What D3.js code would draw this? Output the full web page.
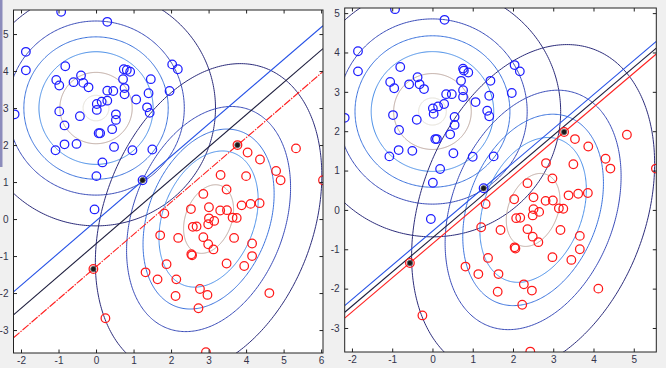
<!DOCTYPE html>
<html><head><meta charset="utf-8">
<script src="https://cdn.jsdelivr.net/npm/d3@7"></script>
<style>body{margin:0;background:#f0f0f0;} svg{display:block}</style>
</head><body><svg id="c" width="666" height="368"></svg>
<script>
// ---------- data ----------
const xTicksLeft = [-2,-1,0,1,2,3,4,5,6];
const yTicksLeft = [-3,-2,-1,0,1,2,3,4,5];
const xTicksRight = [-2,-1,0,1,2,3,4,5];
const yTicksRight = [-3,-2,-1,0,1,2,3,4,5];

const blueLeft = [[-0.93,5.60],[0.30,5.33],[-1.87,4.52],[-1.87,4.02],[-0.82,4.13],[-2.17,2.83],[-1.06,3.76],[-0.98,3.61],[-0.60,3.70],[-0.40,3.88],[-0.34,3.68],[-0.20,3.56],[-0.98,2.91],[-0.43,2.78],[-0.84,2.53],[0.02,3.11],[0.02,2.95],[0.15,3.17],[0.30,3.20],[0.30,3.47],[0.46,3.46],[0.53,2.83],[0.53,2.68],[0.43,2.43],[0.07,2.32],[0.11,2.32],[0.74,4.05],[0.82,4.03],[0.91,3.98],[0.72,3.78],[0.76,3.54],[0.76,3.37],[1.07,3.23],[1.46,3.78],[1.40,3.40],[1.36,3.02],[1.43,2.87],[1.96,3.46],[2.03,4.18],[2.18,4.05],[-1.08,1.86],[-0.84,2.02],[-0.52,2.03],[0.48,1.95],[0.97,1.86],[1.50,1.88],[0.17,1.53],[0.01,1.16],[1.24,1.05],[-0.04,0.26]];
const redLeft = [[3.77,2.00],[4.04,1.80],[4.37,1.61],[5.33,1.91],[4.80,1.30],[4.92,1.05],[6.05,1.05],[3.32,1.19],[4.00,1.16],[3.48,0.80],[2.86,0.68],[1.82,0.15],[2.53,0.27],[3.01,0.32],[3.31,0.23],[3.49,0.24],[3.88,0.37],[4.12,0.41],[4.36,0.43],[3.64,0.04],[3.75,0.03],[3.01,0.02],[3.15,-0.05],[2.99,-0.14],[2.58,-0.21],[2.68,-0.20],[1.71,-0.44],[2.19,-0.51],[2.86,-0.49],[2.99,-0.68],[3.13,-0.82],[3.68,-0.51],[4.16,-0.66],[4.16,-1.00],[2.54,-0.95],[2.56,-0.98],[1.88,-1.22],[3.48,-1.20],[3.95,-1.27],[1.32,-1.44],[1.64,-1.63],[2.14,-1.63],[2.77,-1.89],[2.97,-2.05],[2.12,-2.08],[4.62,-2.00],[2.73,-2.41],[0.25,-2.68],[2.93,-3.60],[-0.07,-1.35]];
const svLeft = [[1.24,1.05],[-0.07,-1.35],[3.77,2.00]];

const blueRight = [[-0.93,5.10],[0.30,4.83],[-1.85,4.03],[-1.85,3.52],[-0.80,3.63],[-2.18,2.34],[-1.05,3.25],[-0.95,3.09],[-0.58,3.19],[-0.37,3.37],[-0.32,3.19],[-0.21,3.07],[-0.98,2.41],[-0.39,2.29],[-0.83,2.03],[0.01,2.58],[0.03,2.44],[0.14,2.63],[0.29,2.69],[0.34,2.94],[0.48,2.94],[0.55,2.36],[0.55,2.16],[0.44,1.92],[0.07,1.80],[0.11,1.80],[0.76,3.59],[0.78,3.54],[0.89,3.49],[0.71,3.28],[0.76,3.04],[0.76,2.87],[1.07,2.74],[1.44,3.28],[1.41,2.90],[1.36,2.52],[1.41,2.38],[1.97,2.97],[2.04,3.68],[2.17,3.52],[-1.07,1.36],[-0.84,1.52],[-0.50,1.50],[0.52,1.44],[1.00,1.35],[1.52,1.36],[0.19,1.04],[0.01,0.69],[1.27,0.55],[-0.04,-0.23]];
const redRight = [[3.27,1.98],[3.54,1.80],[3.87,1.61],[4.83,1.91],[4.30,1.30],[4.42,1.05],[5.55,1.05],[2.82,1.19],[3.50,1.16],[2.98,0.80],[2.36,0.68],[1.32,0.15],[2.03,0.27],[2.51,0.32],[2.81,0.23],[2.99,0.24],[3.38,0.37],[3.62,0.41],[3.86,0.43],[3.14,0.04],[3.25,0.03],[2.51,0.02],[2.65,-0.05],[2.49,-0.14],[2.08,-0.21],[2.18,-0.20],[1.21,-0.44],[1.69,-0.51],[2.36,-0.49],[2.49,-0.68],[2.63,-0.82],[3.18,-0.51],[3.66,-0.66],[3.66,-1.00],[2.04,-0.95],[2.06,-0.98],[1.38,-1.22],[2.98,-1.20],[3.45,-1.27],[0.82,-1.44],[1.14,-1.63],[1.64,-1.63],[2.27,-1.89],[2.47,-2.05],[1.62,-2.08],[4.12,-2.00],[2.23,-2.41],[-0.25,-2.68],[2.43,-3.60],[-0.56,-1.35]];
const svRight = [[1.27,0.55],[-0.56,-1.35],[3.27,1.98]];

// class Gaussians: mean, [sx, rho, sy]
const blueMeanLeft = [0, 3], redMeanLeft = [3, 0];
const blueMeanRight = [0, 2.5], redMeanRight = [2.5, 0];
const blueCov = [1.0, 0.0, 1.0];
const redCov = [0.97, 0.28, 1.35];
const contourLevels = [0.001, 0.01, 0.025, 0.05, 0.1, 0.15];
const contourColors = ["#2c2c7a", "#3a4cb8", "#3b72dc", "#4a8fe8", "#bca69e", "#e4e0d6"];

// margin lines: y = slope*x + intercept  (blue margin, separator, red margin)
const slopeLeft = 0.872, interceptsLeft = [-0.05, -0.67, -1.29];
const slopeRight = 0.867, interceptsRight = [-0.54, -0.71, -0.86];
const lineColors = ["#2450e6", "#1c1c3c", "#ff2020"];

// ---------- drawing ----------
const svg = d3.select("#c");
svg.append("rect").attr("width",666).attr("height",368).attr("fill","#f0f0f0");
svg.append("rect").attr("x",0).attr("y",0).attr("width",2.5).attr("height",167).attr("fill","#8c8cbc");

function panel(id, box, xd, yd, xt, yt, blues, reds, svs, bm, rm, slope, ints, redDash) {
  const x = d3.scaleLinear().domain(xd).range([box[0], box[1]]);
  const y = d3.scaleLinear().domain(yd).range([box[3], box[2]]);
  const g = svg.append("g");
  g.append("rect").attr("x",box[0]).attr("y",box[2]).attr("width",box[1]-box[0]).attr("height",box[3]-box[2]).attr("fill","#fff");
  svg.append("clipPath").attr("id",id).append("rect")
    .attr("x",box[0]).attr("y",box[2]).attr("width",box[1]-box[0]).attr("height",box[3]-box[2]);
  const pg = g.append("g").attr("clip-path",`url(#${id})`);

  const line = d3.line().x(d=>x(d[0])).y(d=>y(d[1])).curve(d3.curveLinearClosed);
  const ts = d3.range(0, 2*Math.PI, Math.PI/180);
  [[bm, blueCov],[rm, redCov]].forEach(([m, c]) => {
    const [sx, rho, sy] = c;
    const peak = 1/(2*Math.PI*sx*sy*Math.sqrt(1-rho*rho));
    contourLevels.forEach((L, i) => {
      if (L >= peak) return;
      const r = Math.sqrt(2*Math.log(peak/L));
      const pts = ts.map(t => [m[0] + r*sx*Math.cos(t), m[1] + r*(rho*sy*Math.cos(t) + sy*Math.sqrt(1-rho*rho)*Math.sin(t))]);
      pg.append("path").attr("d", line(pts)).attr("fill","none")
        .attr("stroke", contourColors[i]).attr("stroke-width",1);
    });
  });

  ints.forEach((b, i) => {
    pg.append("line")
      .attr("x1", x(xd[0])).attr("y1", y(slope*xd[0]+b))
      .attr("x2", x(xd[1])).attr("y2", y(slope*xd[1]+b))
      .attr("stroke", lineColors[i]).attr("stroke-width", 1.1)
      .attr("stroke-dasharray", (i===2 && redDash) ? "8,1.2,1.5,1.2" : null);
  });

  pg.selectAll(".b").data(blues).join("circle")
    .attr("cx",d=>x(d[0])).attr("cy",d=>y(d[1])).attr("r",4.3)
    .attr("fill","none").attr("stroke","#1f1fff").attr("stroke-width",1.25);
  pg.selectAll(".r").data(reds).join("circle")
    .attr("cx",d=>x(d[0])).attr("cy",d=>y(d[1])).attr("r",4.3)
    .attr("fill","none").attr("stroke","#ff1a1a").attr("stroke-width",1.25);
  pg.selectAll(".sv").data(svs).join("circle")
    .attr("cx",d=>x(d[0])).attr("cy",d=>y(d[1])).attr("r",2.7)
    .attr("fill","#1a1a1a").attr("stroke","#666").attr("stroke-width",0.8);

  const fmt = d => String(d);
  const style = a => a.call(s => s.select(".domain").remove())
    .call(s => s.selectAll("line").attr("stroke","#222"))
    .call(s => s.selectAll("text").attr("fill","#33334a").style("font-family","'Liberation Sans', Arial, sans-serif").style("font-size","10px"));
  g.append("g").attr("transform",`translate(0,${box[3]})`)
    .call(d3.axisBottom(x).tickValues(xt).tickSize(-3.5).tickPadding(4).tickFormat(fmt)).call(style);
  g.append("g").attr("transform",`translate(0,${box[2]})`)
    .call(d3.axisTop(x).tickValues(xt).tickSize(-3.5).tickFormat("")).call(style);
  g.append("g").attr("transform",`translate(${box[0]},0)`)
    .call(d3.axisLeft(y).tickValues(yt).tickSize(-3.5).tickPadding(5).tickFormat(fmt)).call(style);
  g.append("g").attr("transform",`translate(${box[1]},0)`)
    .call(d3.axisRight(y).tickValues(yt).tickSize(-3.5).tickFormat("")).call(style);
  g.append("rect").attr("x",box[0]).attr("y",box[2]).attr("width",box[1]-box[0]).attr("height",box[3]-box[2])
    .attr("fill","none").attr("stroke","#222").attr("stroke-width",1);
}

panel("clipL", [13.5, 323, 10, 353], [-2.2, 6.05], [-3.62, 5.65], xTicksLeft, yTicksLeft,
      blueLeft, redLeft, svLeft, blueMeanLeft, redMeanLeft, slopeLeft, interceptsLeft, true);
panel("clipR", [344.7, 656.3, 8, 352], [-2.18, 5.56], [-3.61, 5.13], xTicksRight, yTicksRight,
      blueRight, redRight, svRight, blueMeanRight, redMeanRight, slopeRight, interceptsRight, false);
</script></body></html>
